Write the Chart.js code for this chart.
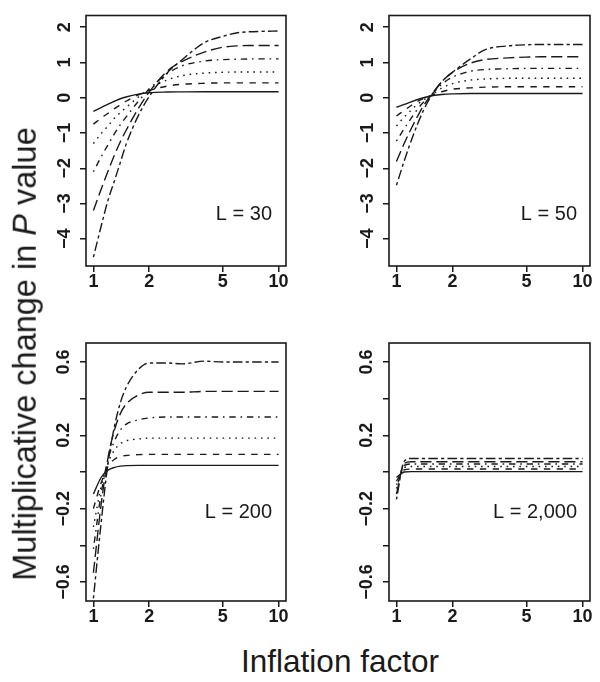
<!DOCTYPE html>
<html><head><meta charset="utf-8">
<script src="https://cdn.jsdelivr.net/npm/chart.js@4/dist/chart.umd.min.js"></script>
<style>
html,body{margin:0;padding:0;background:#fff;}
#wrap{position:relative;width:600px;height:682px;overflow:hidden;font-family:"Liberation Sans",Arial,sans-serif;}
canvas{position:absolute;}
.ttl{position:absolute;white-space:nowrap;color:#1a1a1a;line-height:1;}
</style></head><body>
<div id="wrap">
<canvas id="c0" width="300" height="320" style="left:0;top:0"></canvas>
<canvas id="c1" width="300" height="320" style="left:300px;top:0"></canvas>
<canvas id="c2" width="300" height="320" style="left:0;top:320px"></canvas>
<canvas id="c3" width="300" height="320" style="left:300px;top:320px"></canvas>
<div class="ttl" style="left:340px;top:646px;transform:translateX(-50%);font-size:31.5px">Inflation factor</div>
<div class="ttl" style="left:24.5px;top:353.5px;transform:translate(-50%,-50%) rotate(-90deg);font-size:32.5px">Multiplicative change in <i>P</i> value</div>
</div>
<script>
// ---- data ----
const inflation = [1, 1.1, 1.2, 1.3, 1.4, 1.5, 1.75, 2, 2.5, 3, 4, 5, 6, 7, 8, 10];
const xTicks = [1, 2, 5, 10];
const yTicksTop = [-4, -3, -2, -1, 0, 1, 2];
const yTicksBottom = [-0.6, -0.4, -0.2, 0, 0.2, 0.4, 0.6];
const yLabelsBottom = [-0.6, -0.2, 0.2, 0.6];
const panelLabels = ["L = 30", "L = 50", "L = 200", "L = 2,000"];

const L30_solid    = [-0.39,-0.28,-0.18,-0.10,-0.03,0.02,0.10,0.14,0.16,0.165,0.17,0.17,0.17,0.17,0.17,0.17];
const L30_dashed   = [-0.75,-0.58,-0.44,-0.31,-0.20,-0.10,0.08,0.20,0.33,0.38,0.41,0.42,0.42,0.42,0.42,0.42];
const L30_dotted   = [-1.30,-1.02,-0.80,-0.58,-0.42,-0.28,0.02,0.25,0.50,0.62,0.70,0.72,0.73,0.73,0.73,0.73];
const L30_dotdash  = [-2.10,-1.68,-1.33,-1.02,-0.76,-0.55,-0.10,0.24,0.68,0.90,1.04,1.08,1.09,1.10,1.10,1.10];
const L30_longdash = [-3.20,-2.60,-2.08,-1.62,-1.24,-0.93,-0.30,0.16,0.75,1.02,1.30,1.43,1.47,1.48,1.48,1.48];
const L30_twodash  = [-4.52,-3.65,-2.90,-2.35,-1.82,-1.33,-0.50,0.03,0.70,1.07,1.57,1.74,1.84,1.87,1.88,1.89];

const L50_solid    = [-0.27,-0.19,-0.12,-0.05,0.00,0.04,0.09,0.11,0.12,0.12,0.12,0.12,0.12,0.12,0.12,0.12];
const L50_dashed   = [-0.52,-0.36,-0.22,-0.10,-0.02,0.04,0.17,0.24,0.28,0.30,0.31,0.31,0.31,0.31,0.31,0.31];
const L50_dotted   = [-0.80,-0.55,-0.35,-0.18,-0.06,0.03,0.27,0.40,0.50,0.53,0.55,0.55,0.55,0.55,0.55,0.55];
const L50_dotdash  = [-1.23,-0.88,-0.58,-0.32,-0.12,0.02,0.38,0.58,0.75,0.80,0.82,0.83,0.83,0.83,0.83,0.83];
const L50_longdash = [-1.81,-1.30,-0.88,-0.52,-0.22,0.00,0.45,0.72,0.98,1.08,1.13,1.15,1.16,1.16,1.16,1.16];
const L50_twodash  = [-2.48,-1.80,-1.22,-0.74,-0.35,-0.05,0.45,0.72,1.10,1.36,1.47,1.50,1.51,1.51,1.51,1.51];

const L200_solid    = [-0.12,-0.03,0.01,0.025,0.032,0.035,0.036,0.036,0.036,0.036,0.036,0.036,0.036,0.036,0.036,0.036];
const L200_dashed   = [-0.20,-0.06,0.03,0.07,0.085,0.09,0.095,0.096,0.096,0.096,0.096,0.096,0.096,0.096,0.096,0.096];
const L200_dotted   = [-0.30,-0.08,0.05,0.12,0.155,0.17,0.18,0.185,0.185,0.185,0.185,0.185,0.185,0.185,0.185,0.185];
const L200_dotdash  = [-0.42,-0.12,0.07,0.17,0.23,0.26,0.285,0.295,0.30,0.30,0.30,0.30,0.30,0.30,0.30,0.30];
const L200_longdash = [-0.55,-0.18,0.08,0.23,0.32,0.37,0.42,0.435,0.435,0.435,0.44,0.44,0.44,0.44,0.44,0.44];
const L200_twodash  = [-0.69,-0.28,0.05,0.25,0.38,0.46,0.56,0.595,0.595,0.59,0.605,0.60,0.60,0.60,0.60,0.60];

const L2000_solid    = [-0.03,0.000,0.002,0.002,0.002,0.002,0.002,0.002,0.002,0.002,0.002,0.002,0.002,0.002,0.002,0.002];
const L2000_dashed   = [-0.05,0.012,0.016,0.016,0.016,0.016,0.016,0.016,0.016,0.016,0.016,0.016,0.016,0.016,0.016,0.016];
const L2000_dotted   = [-0.07,0.024,0.030,0.030,0.030,0.030,0.030,0.030,0.030,0.030,0.030,0.030,0.030,0.030,0.030,0.030];
const L2000_dotdash  = [-0.09,0.036,0.044,0.044,0.044,0.044,0.044,0.044,0.044,0.044,0.044,0.044,0.044,0.044,0.044,0.044];
const L2000_longdash = [-0.12,0.046,0.056,0.056,0.056,0.056,0.056,0.056,0.056,0.056,0.056,0.056,0.056,0.056,0.056,0.056];
const L2000_twodash  = [-0.15,0.058,0.074,0.074,0.074,0.074,0.074,0.074,0.074,0.074,0.074,0.074,0.074,0.074,0.074,0.074];

// ---- styles ----
const INK = '#1a1a1a';
const k = 1.6;
const dashes = [[], [4*k,4*k], [1*k,3*k], [1*k,3*k,4*k,3*k], [7*k,3*k], [2*k,2*k,6*k,2*k]];
const TICK_FONT = {family: '"Liberation Sans", Arial, sans-serif', size: 18, weight: 'bold'};

const panels = [
  {id:'c0', series:[L30_solid,L30_dashed,L30_dotted,L30_dotdash,L30_longdash,L30_twodash], top:true,
   yMin:-4.77, yMax:2.33, padTop:8, padRight:14, yW:86, xH:54, lblDx:14, lblDy:204},
  {id:'c1', series:[L50_solid,L50_dashed,L50_dotted,L50_dotdash,L50_longdash,L50_twodash], top:true,
   yMin:-4.77, yMax:2.33, padTop:8, padRight:10, yW:89, xH:54, lblDx:13, lblDy:204},
  {id:'c2', series:[L200_solid,L200_dashed,L200_dotted,L200_dotdash,L200_longdash,L200_twodash], top:false,
   yMin:-0.704, yMax:0.704, padTop:23, padRight:14, yW:86, xH:39, lblDx:14, lblDy:175},
  {id:'c3', series:[L2000_solid,L2000_dashed,L2000_dotted,L2000_dotdash,L2000_longdash,L2000_twodash], top:false,
   yMin:-0.704, yMax:0.704, padTop:23, padRight:10, yW:89, xH:39, lblDx:13, lblDy:175},
];

const boxPlugin = {
  id: 'box',
  afterDraw(chart, args, opts) {
    const {ctx, chartArea: a} = chart;
    ctx.save();
    ctx.strokeStyle = INK; ctx.lineWidth = 1.6;
    ctx.strokeRect(a.left, a.top, a.right - a.left, a.bottom - a.top);
    ctx.font = '20px "Liberation Sans", Arial, sans-serif';
    ctx.fillStyle = INK; ctx.textAlign = 'right'; ctx.textBaseline = 'alphabetic';
    ctx.fillText(opts.text, a.right - opts.dx, a.top + opts.dy);
    ctx.restore();
  }
};

function fmt(v) {
  const s = String(Math.round(Math.abs(v) * 10) / 10);
  return v < 0 ? '\u2212' + s : s;
}

panels.forEach((p, pi) => {
  const datasets = p.series.map((ys, si) => ({
    data: inflation.map((x, i) => ({x: x, y: ys[i]})),
    borderColor: INK, borderWidth: 1.4, borderDash: dashes[si],
    pointRadius: 0, fill: false, cubicInterpolationMode: 'monotone', tension: 0.4
  }));
  const yTicks = p.top ? yTicksTop : yTicksBottom;
  new Chart(document.getElementById(p.id), {
    type: 'line',
    data: {datasets},
    options: {
      responsive: false, animation: false,
      layout: {padding: {top: p.padTop, right: p.padRight, left: 0, bottom: 0}},
      plugins: {legend: {display: false}, tooltip: {enabled: false},
                box: {text: panelLabels[pi], dx: p.lblDx, dy: p.lblDy}},
      scales: {
        x: {
          type: 'logarithmic', min: Math.pow(10, -0.04), max: Math.pow(10, 1.04),
          afterBuildTicks: s => { s.ticks = xTicks.map(v => ({value: v})); },
          afterFit: s => { s.height = p.xH; },
          grid: {display: true, drawOnChartArea: false, drawTicks: true, tickLength: 6, color: INK, lineWidth: 1.5},
          border: {display: false},
          ticks: {autoSkip: false, maxRotation: 0, padding: -0.5, color: INK, font: TICK_FONT,
                  callback: v => String(v)}
        },
        y: {
          type: 'linear', min: p.yMin, max: p.yMax,
          afterBuildTicks: s => { s.ticks = yTicks.map(v => ({value: v})); },
          afterFit: s => { s.width = p.yW; },
          grid: {display: true, drawOnChartArea: false, drawTicks: true, tickLength: 6, color: INK, lineWidth: 1.5},
          border: {display: false},
          ticks: {autoSkip: false, minRotation: 90, maxRotation: 90, crossAlign: 'center',
                  padding: p.top ? 4.7 : -1.7, color: INK, font: TICK_FONT,
                  callback: v => {
                    if (!p.top && !yLabelsBottom.some(t => Math.abs(t - v) < 1e-9)) return '';
                    return fmt(v);
                  }}
        }
      }
    },
    plugins: [boxPlugin]
  });
});
</script>
</body></html>
